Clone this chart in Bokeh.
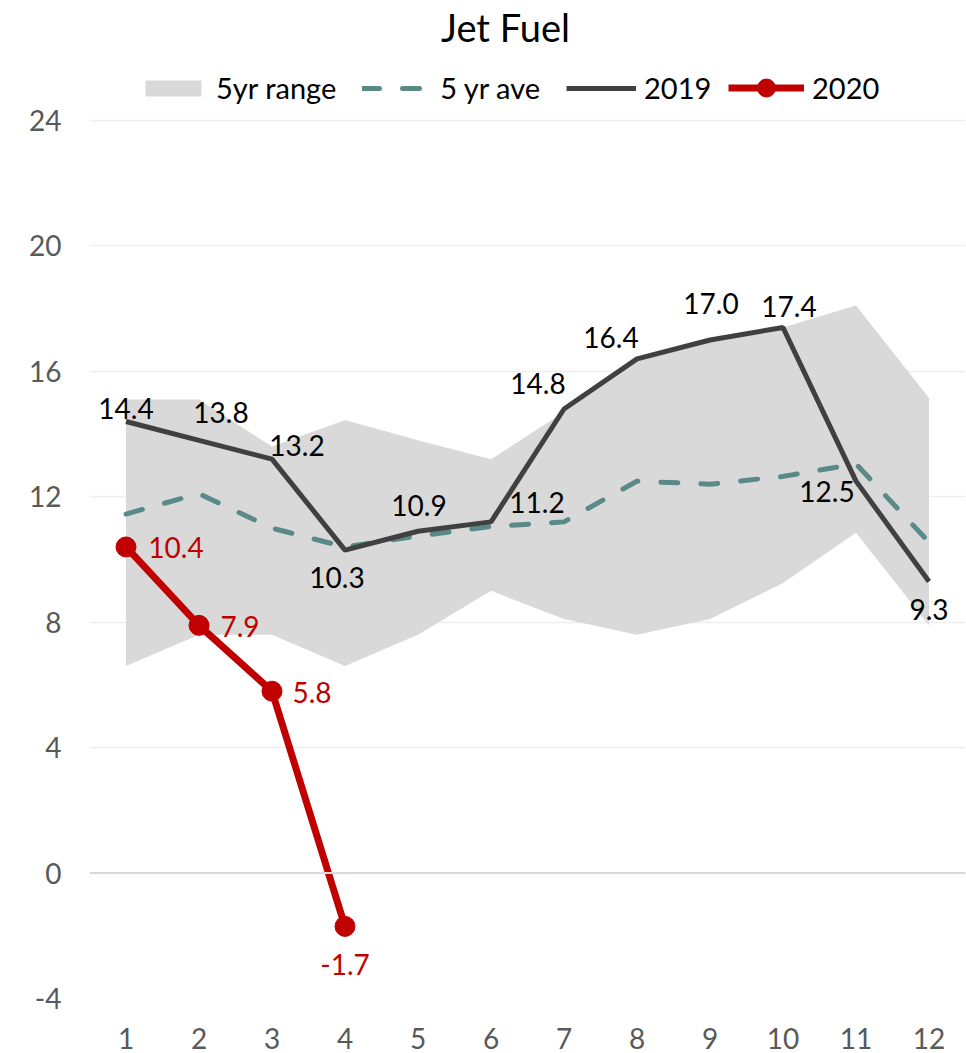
from bokeh.plotting import figure
from bokeh.models import (Legend, LegendItem, Span, FixedTicker, ColumnDataSource, Range1d,
                          CustomJSTickFormatter, Label)
from bokeh.core.properties import value
from bokeh.embed import file_html
from bokeh.resources import INLINE

months = [1, 2, 3, 4, 5, 6, 7, 8, 9, 10, 11, 12]
range_low = [6.6, 7.6, 7.6, 6.6, 7.6, 9.0, 8.1, 7.6, 8.1, 9.25, 10.85, 7.9]
range_high = [15.1, 15.1, 13.6, 14.45, 13.8, 13.2, 14.7, 16.4, 17.0, 17.4, 18.1, 15.15]
ave5 = [11.45, 12.1, 11.0, 10.4, 10.75, 11.05, 11.2, 12.5, 12.4, 12.65, 13.05, 10.55]
y2019 = [14.4, 13.8, 13.2, 10.3, 10.9, 11.2, 14.8, 16.4, 17.0, 17.4, 12.5, 9.3]
months2020 = [1, 2, 3, 4]
y2020 = [10.4, 7.9, 5.8, -1.7]
y_ticks = [-4, 0, 4, 8, 12, 16, 20, 24]
title_text = "Jet Fuel"

# label offsets (screen px) for data labels
off2019_x = [0, 22, 25, -8, 1, 46, -26, -26, 1, 6, -29, 0]
off2019_y = [-13, -28, -14, 27, -26, -19, -25, -21, -37, -21, 10, 28]
off2020_x = [50, 41, 40, 0]
off2020_y = [1, 1, 1, 38]

FONT = "Lato"

# frame spans the full height above -4 so title and legend sit inside it
p = figure(width=966, height=1053, output_backend="svg", toolbar_location=None,
           title=None, x_range=Range1d(0.5, 12.5), y_range=Range1d(-4, 27.827),
           min_border_left=89, min_border_right=1, min_border_top=0,
           min_border_bottom=55)
p.outline_line_color = None
p.background_fill_color = "white"

p.add_layout(Label(x=416, y=972, x_units="screen", y_units="screen", text=title_text,
                   text_font=FONT, text_font_size="38px", text_color="#000000",
                   text_align="center", text_baseline="middle"))

# axes
p.xaxis.ticker = FixedTicker(ticks=months)
p.yaxis.ticker = FixedTicker(ticks=y_ticks)
p.yaxis.formatter = CustomJSTickFormatter(code="return tick.toString();")
for ax in (p.xaxis[0], p.yaxis[0]):
    ax.axis_line_color = None
    ax.major_tick_line_color = None
    ax.minor_tick_line_color = None
    ax.major_label_text_font = FONT
    ax.major_label_text_font_size = "28px"
    ax.major_label_text_color = "#595959"
p.yaxis.major_label_standoff = 22
p.xaxis.major_label_standoff = 23

p.xgrid.grid_line_color = None
p.ygrid.grid_line_color = "#eeeeee"
p.ygrid.grid_line_width = 1.5
p.add_layout(Span(location=0, dimension="width", line_color="#d9d9d9", line_width=2))

r_band = p.varea(x=months, y1=range_low, y2=range_high, fill_color="#d9d9d9")
r_ave = p.line(months, ave5, line_color="#598a87", line_width=5, line_dash="17 23",
               line_cap="round")
r_2019 = p.line(months, y2019, line_color="#404040", line_width=5)
r_2020 = p.line(months2020, y2020, line_color="#c00000", line_width=7)
r_2020c = p.scatter(months2020, y2020, size=20, fill_color="#c00000", line_color="#c00000")

src19 = ColumnDataSource(dict(x=months, y=y2019, t=["%.1f" % v for v in y2019],
                              dx=off2019_x, dy=off2019_y))
p.text(x="x", y="y", text="t", x_offset="dx", y_offset="dy", source=src19,
       text_font=value(FONT), text_font_size="28px", text_color="#000000",
       text_align="center", text_baseline="middle")
src20 = ColumnDataSource(dict(x=months2020, y=y2020, t=["%.1f" % v for v in y2020],
                              dx=off2020_x, dy=off2020_y))
p.text(x="x", y="y", text="t", x_offset="dx", y_offset="dy", source=src20,
       text_font=value(FONT), text_font_size="28px", text_color="#c00000",
       text_align="center", text_baseline="middle")


def style_legend(lg, gw, gh):
    lg.label_text_font = FONT
    lg.label_text_font_size = "29px"
    lg.label_text_color = "#000000"
    lg.glyph_width = gw
    lg.glyph_height = gh
    lg.label_standoff = 8
    lg.spacing = 26
    lg.padding = 0
    lg.margin = 0
    lg.border_line_color = None
    lg.background_fill_alpha = 0


legend_a = Legend(items=[
    LegendItem(label="5yr range", renderers=[r_band]),
    LegendItem(label="5 yr ave", renderers=[r_ave]),
    LegendItem(label="2019", renderers=[r_2019]),
], orientation="horizontal", location=(49, 893))
style_legend(legend_a, 70, 20)
p.add_layout(legend_a, "center")

legend_b = Legend(items=[
    LegendItem(label="2020", renderers=[r_2020, r_2020c]),
], orientation="horizontal", location=(639, 888))
style_legend(legend_b, 76, 45)
p.add_layout(legend_b, "center")

open("out.html", "w").write(file_html(p, INLINE))
